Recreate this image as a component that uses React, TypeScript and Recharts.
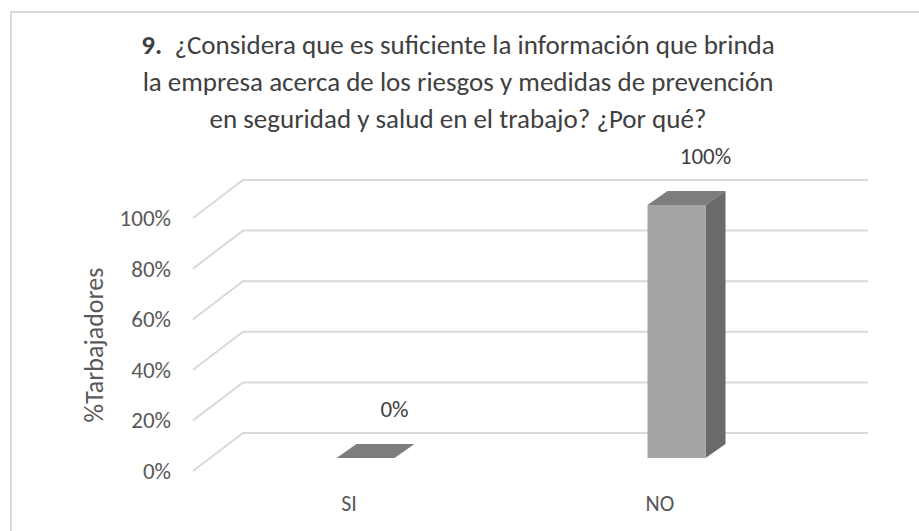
import React from "react";
import { BarChart, Bar, XAxis, YAxis, CartesianGrid, LabelList } from "recharts";

const categories = ["SI", "NO"];
const percentTrabajadores = [0, 100];
const yTicks = [0, 20, 40, 60, 80, 100];
const titleLines = [
  "¿Considera que es suficiente la información que brinda",
  "la empresa acerca de los riesgos y medidas de prevención",
  "en seguridad y salud en el trabajo? ¿Por qué?",
];

const data = categories.map((name, i) => ({ name, value: percentTrabajadores[i] }));

const FONT = "Carlito, 'Liberation Sans Narrow', 'Open Sans', sans-serif";
const TXT = "#595959";
const DX = 20; // bar depth offset
const DY = -14;

// 3D prism bar
const PrismBar = (props: any) => {
  const { x, y, width: w, height: h } = props;
  return (
    <g>
      <polygon
        points={`${x},${y} ${x + DX},${y + DY} ${x + w + DX},${y + DY} ${x + w},${y}`}
        fill="#7d7d7d"
      />
      {h > 0 && (
        <>
          <polygon
            points={`${x + w},${y} ${x + w + DX},${y + DY} ${x + w + DX},${y + h + DY} ${x + w},${y + h}`}
            fill="#6a6a6a"
          />
          <rect x={x} y={y} width={w} height={h} fill="#a5a5a5" />
        </>
      )}
    </g>
  );
};

// gridline with the slanted left wall part
const WallLine = (props: any) => {
  const { x1, x2, y1 } = props;
  return (
    <polyline
      key={props.key}
      points={`${x1 - 16.5},${y1 + 13} ${x1 + 33.5},${y1 - 25} ${x2 + 36.5},${y1 - 25}`}
      fill="none"
      stroke="#d9d9d9"
      strokeWidth={2}
    />
  );
};

const YTick = (props: any) => {
  const { y, payload } = props;
  return (
    <text x={171} y={y + 13} dy={8} textAnchor="end" fontSize={23} fill={TXT} fontFamily={FONT}>
      {payload.value}%
    </text>
  );
};

const XTick = (props: any) => {
  const { x, payload } = props;
  return (
    <text x={x - 16} y={511} textAnchor="middle" fontSize={22} fill={TXT} fontFamily={FONT}>
      {payload.value}
    </text>
  );
};

const ValueLabel = (props: any) => {
  const { x, y, width, value } = props;
  return (
    <text x={x + width} y={y - 49 + 8} textAnchor="middle" fontSize={23} fill="#404040" fontFamily={FONT}>
      {value}%
    </text>
  );
};

export default function App() {
  return (
    <div style={{ position: "absolute", left: 0, top: 0, width: 919, height: 531, background: "#fff", overflow: "hidden" }}>
      <div
        style={{
          position: "absolute",
          left: 10,
          top: 11,
          width: 930,
          height: 540,
          borderLeft: "2px solid #d9d9d9",
          borderTop: "2px solid #d9d9d9",
        }}
      />
      <div
        style={{
          position: "absolute",
          left: 0,
          top: 26,
          width: 916,
          textAlign: "center",
          fontFamily: FONT,
          fontSize: 27,
          lineHeight: "37px",
          color: "#404040",
        }}
      >
        {titleLines.map((t, i) => (
          <div key={i}>
            {i === 0 && <b>9.&nbsp;&nbsp;</b>}
            {t}
          </div>
        ))}
      </div>
      <div style={{ position: "absolute", left: 0, top: 0 }}>
        <BarChart
          width={919}
          height={531}
          data={data}
          margin={{ top: 205, right: 87.5, bottom: 0, left: 149.5 }}
          barSize={58}
        >
          <CartesianGrid vertical={false} horizontal={(p: any) => <WallLine {...p} />} />
          <XAxis dataKey="name" axisLine={false} tickLine={false} tick={<XTick />} height={73} />
          <YAxis
            domain={[0, 100]}
            ticks={yTicks}
            width={60}
            axisLine={false}
            tickLine={false}
            tick={<YTick />}
            label={() => (
              <text
                x={103}
                y={345}
                transform="rotate(-90 103 345)"
                textAnchor="middle"
                fontSize={26}
                fill={TXT}
                fontFamily={FONT}
              >
                %Tarbajadores
              </text>
            )}
          />
          <Bar dataKey="value" shape={<PrismBar />} isAnimationActive={false}>
            <LabelList dataKey="value" content={<ValueLabel />} />
          </Bar>
        </BarChart>
      </div>
    </div>
  );
}
